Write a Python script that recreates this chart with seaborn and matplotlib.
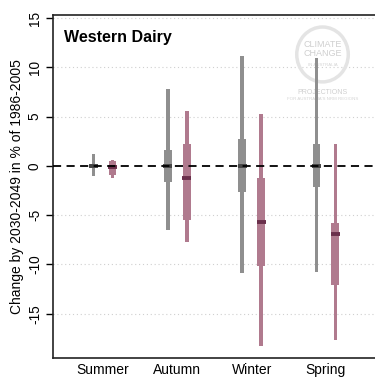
import numpy as np
import pandas as pd
import matplotlib
matplotlib.use("Agg")
import matplotlib.pyplot as plt
import seaborn as sns

# Data: projected change (%) by 2030-2049 relative to 1986-2005
seasons = ["Summer", "Autumn", "Winter", "Spring"]
# grey series (left of each pair)
grey_low = [-1.0, -6.5, -10.9, -10.8]
grey_q1 = [-0.2, -1.6, -2.7, -2.2]
grey_med = [0.0, 0.0, 0.0, 0.0]
grey_q3 = [0.2, 1.6, 2.7, 2.2]
grey_high = [1.2, 7.8, 11.1, 10.9]
# pink series (right of each pair)
pink_low = [-1.2, -7.7, -18.3, -17.7]
pink_q1 = [-0.9, -5.5, -10.2, -12.1]
pink_med = [-0.1, -1.2, -5.7, -6.9]
pink_q3 = [0.5, 2.2, -1.2, -5.8]
pink_high = [0.6, 5.6, 5.3, 2.2]

grey_col = "#8f8f8f"
grey_dark = "#454545"
pink_col = "#b07a8e"
pink_dark = "#6a2f4b"

df = pd.DataFrame({
    "season": seasons * 2,
    "series": ["grey"] * 4 + ["pink"] * 4,
    "low": grey_low + pink_low,
    "q1": grey_q1 + pink_q1,
    "med": grey_med + pink_med,
    "q3": grey_q3 + pink_q3,
    "high": grey_high + pink_high,
})

sns.set_style("white", {"text.color": "black", "axes.labelcolor": "black",
                        "xtick.color": "black", "ytick.color": "black"})
plt.rcParams["font.family"] = ["Liberation Sans", "DejaVu Sans"]

fig = plt.figure(figsize=(3.75, 3.78), dpi=100)
ax = fig.add_axes([0.1413, 0.0529, 0.8587, 0.9074])

offsets = {"grey": -0.127, "pink": 0.127}
colors = {"grey": (grey_col, grey_dark), "pink": (pink_col, pink_dark)}

for _, r in df.iterrows():
    x = seasons.index(r["season"]) + offsets[r["series"]]
    c, cd = colors[r["series"]]
    ax.bar(x, r["high"] - r["low"], bottom=r["low"], width=0.048, color=c,
           lw=0, zorder=3)
    ax.bar(x, r["q3"] - r["q1"], bottom=r["q1"], width=0.105, color=c,
           lw=0, zorder=4)
    ax.hlines(r["med"], x - 0.06, x + 0.06, color=cd, lw=2.8, zorder=5)

ax.axhline(0, color="black", lw=1.3, ls=(0, (4.5, 3)), zorder=6)

for yv in [-15, -10, -5, 5, 10, 15]:
    ax.axhline(yv, color="#cfcfcf", lw=0.8, ls=(0, (1, 2.5)), zorder=1)

ax.set_xlim(-0.673, 3.66)
ax.set_ylim(-19.5, 15.3)
ax.set_yticks([-15, -10, -5, 0, 5, 10, 15])
ax.set_yticklabels(["-15", "-10", "-5", "0", "5", "10", "15"], rotation=90,
                   va="center", fontsize=9.8)
ax.set_xticks(range(4))
ax.set_xticklabels(seasons, fontsize=10)
ax.tick_params(axis="x", length=0, pad=3.5)
ax.tick_params(axis="y", left=True, length=5, width=1, pad=3, color="black")
ax.set_ylabel("Change by 2030-2049 in % of 1986-2005", fontsize=10, labelpad=3)

for s in ["left", "bottom", "top"]:
    ax.spines[s].set_color("#222222")
    ax.spines[s].set_linewidth(1.2)
ax.spines["right"].set_visible(False)

ax.text(0.035, 0.955, "Western Dairy", transform=ax.transAxes, fontsize=11.5,
        fontweight="bold", va="top", ha="left", zorder=7)

# faint watermark logo
circle = plt.Circle((0.837, 0.885), 0.08, transform=ax.transAxes, fill=False,
                    ec="#e4e4e4", lw=2.5, zorder=2)
ax.add_patch(circle)
ax.text(0.837, 0.9, "CLIMATE\nCHANGE", transform=ax.transAxes, fontsize=6.5,
        color="#cfcfcf", ha="center", va="center", linespacing=1.0, zorder=2)
ax.text(0.837, 0.855, "IN AUSTRALIA", transform=ax.transAxes, fontsize=3.2,
        color="#d5d5d5", ha="center", va="center", zorder=2)
ax.text(0.837, 0.774, "PROJECTIONS", transform=ax.transAxes, fontsize=5,
        color="#cfcfcf", ha="center", va="center", zorder=2)
ax.text(0.837, 0.754, "FOR AUSTRALIA'S NRM REGIONS", transform=ax.transAxes,
        fontsize=3.2, color="#d5d5d5", ha="center", va="center", zorder=2)

fig.savefig("out.png", dpi=100)
